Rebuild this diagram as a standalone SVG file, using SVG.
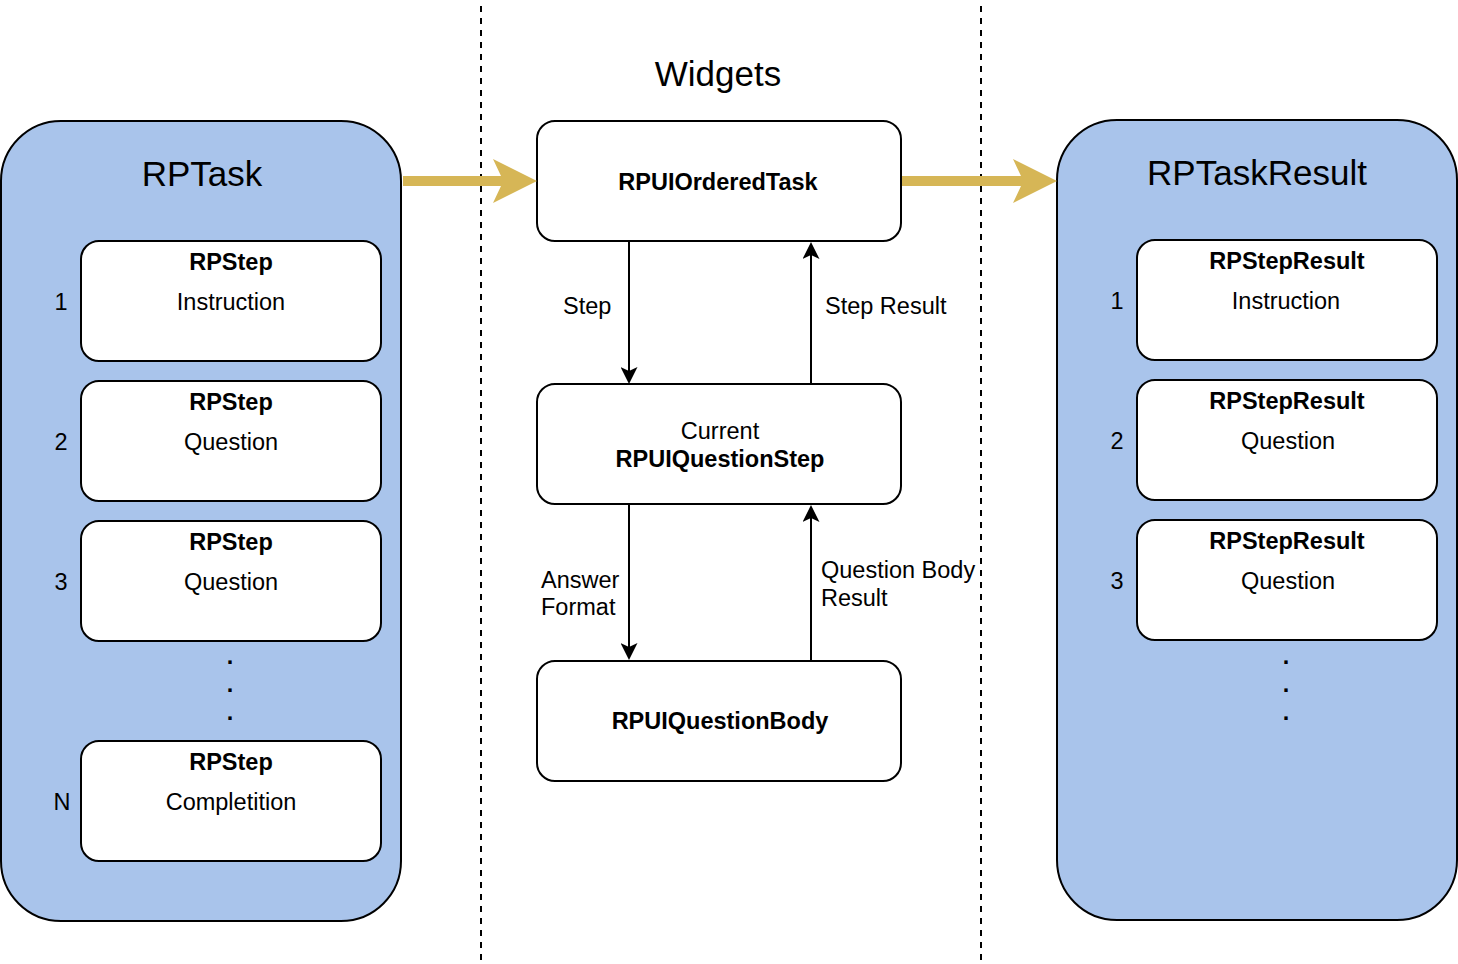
<svg xmlns="http://www.w3.org/2000/svg" width="1458" height="964" viewBox="0 0 1458 964">
<style>
text{font-family:"Liberation Sans",Arial,Helvetica,sans-serif;fill:#000;}
.t{font-size:23.5px;}
.b{font-size:23.5px;font-weight:bold;}
.title{font-size:35px;}
.c{text-anchor:middle;}
.panel{fill:#A9C4EB;stroke:#000;stroke-width:2;}
.box{fill:#fff;stroke:#000;stroke-width:2;}
.div{stroke:#000;stroke-width:2;stroke-dasharray:6 6;fill:none;}
.edge{stroke:#000;stroke-width:2;fill:none;marker-end:url(#arr);}
.gold{fill:#D6B656;stroke:none;}
</style>
<defs>
<marker id="arr" viewBox="0 0 17 17" markerUnits="userSpaceOnUse" markerWidth="17" markerHeight="17" refX="5" refY="8.5" orient="auto">
<path d="M0,0 L17,8.5 L0,17 L4,8.5 Z" fill="#000"/>
</marker>
</defs>
<g id="dividers">
<line class="div" x1="481" y1="6" x2="481" y2="964"/>
<line class="div" x1="981" y1="6" x2="981" y2="964"/>
</g>
<text id="widgets-label" class="title c" x="718" y="86">Widgets</text>
<g id="rptask">
<rect class="panel" x="1" y="121" width="400" height="800" rx="60" ry="60"/>
<text class="title c" x="202" y="186">RPTask</text>
</g>
<g id="rpstep-1">
<rect class="box" x="81" y="241" width="300" height="120" rx="18" ry="18"/>
<text class="b c" x="231" y="270">RPStep</text>
<text class="t c" x="231" y="310">Instruction</text>
<text class="t c" x="61" y="310">1</text>
</g>
<g id="rpstep-2">
<rect class="box" x="81" y="381" width="300" height="120" rx="18" ry="18"/>
<text class="b c" x="231" y="410">RPStep</text>
<text class="t c" x="231" y="450">Question</text>
<text class="t c" x="61" y="450">2</text>
</g>
<g id="rpstep-3">
<rect class="box" x="81" y="521" width="300" height="120" rx="18" ry="18"/>
<text class="b c" x="231" y="550">RPStep</text>
<text class="t c" x="231" y="590">Question</text>
<text class="t c" x="61" y="590">3</text>
</g>
<g id="left-dots">
<text class="b c" x="230" y="664">.</text>
<text class="b c" x="230" y="692">.</text>
<text class="b c" x="230" y="720">.</text>
</g>
<g id="rpstep-n">
<rect class="box" x="81" y="741" width="300" height="120" rx="18" ry="18"/>
<text class="b c" x="231" y="770">RPStep</text>
<text class="t c" x="231" y="810">Completition</text>
<text class="t c" x="62" y="810">N</text>
</g>
<g id="rptaskresult">
<rect class="panel" x="1057" y="120" width="400" height="800" rx="60" ry="60"/>
<text class="title c" x="1257" y="185">RPTaskResult</text>
</g>
<g id="rpstepresult-1">
<rect class="box" x="1137" y="240" width="300" height="120" rx="18" ry="18"/>
<text class="b c" x="1287" y="269">RPStepResult</text>
<text class="t c" x="1286" y="309">Instruction</text>
<text class="t c" x="1117" y="309">1</text>
</g>
<g id="rpstepresult-2">
<rect class="box" x="1137" y="380" width="300" height="120" rx="18" ry="18"/>
<text class="b c" x="1287" y="409">RPStepResult</text>
<text class="t c" x="1288" y="449">Question</text>
<text class="t c" x="1117" y="449">2</text>
</g>
<g id="rpstepresult-3">
<rect class="box" x="1137" y="520" width="300" height="120" rx="18" ry="18"/>
<text class="b c" x="1287" y="549">RPStepResult</text>
<text class="t c" x="1288" y="589">Question</text>
<text class="t c" x="1117" y="589">3</text>
</g>
<g id="right-dots">
<text class="b c" x="1286" y="664">.</text>
<text class="b c" x="1286" y="692">.</text>
<text class="b c" x="1286" y="720">.</text>
</g>
<g id="rpuiorderedtask">
<rect class="box" x="537" y="121" width="364" height="120" rx="18" ry="18"/>
<text class="b c" x="718" y="190">RPUIOrderedTask</text>
</g>
<g id="rpuiquestionstep">
<rect class="box" x="537" y="384" width="364" height="120" rx="18" ry="18"/>
<text class="t c" x="720" y="439">Current</text>
<text class="b c" x="720" y="467">RPUIQuestionStep</text>
</g>
<g id="rpuiquestionbody">
<rect class="box" x="537" y="661" width="364" height="120" rx="18" ry="18"/>
<text class="b c" x="720" y="729">RPUIQuestionBody</text>
</g>
<g id="connectors">
<polygon class="gold" points="403,176 501,176 493,159 537,181 493,203 501,186 403,186"/>
<polygon class="gold" points="902,176 1021,176 1013,159 1057,181 1013,203 1021,186 902,186"/>
<line class="edge" x1="629" y1="242" x2="629" y2="372"/>
<line class="edge" x1="811" y1="383" x2="811" y2="254"/>
<line class="edge" x1="629" y1="505" x2="629" y2="648"/>
<line class="edge" x1="811" y1="660" x2="811" y2="517"/>
<text class="t" x="563" y="314">Step</text>
<text class="t" x="825" y="314">Step Result</text>
<text class="t" x="541" y="588">Answer</text>
<text class="t" x="541" y="615">Format</text>
<text class="t" x="821" y="578">Question Body</text>
<text class="t" x="821" y="606">Result</text>
</g>
</svg>
